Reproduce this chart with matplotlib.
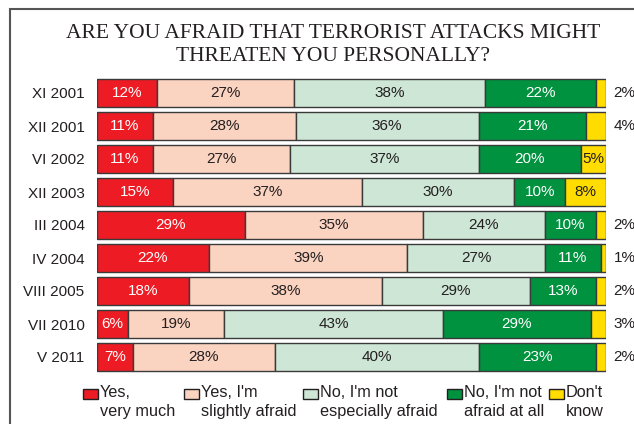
import numpy as np
import matplotlib.pyplot as plt
from matplotlib.patches import Rectangle

periods = ["XI 2001", "XII 2001", "VI 2002", "XII 2003", "III 2004",
           "IV 2004", "VIII 2005", "VII 2010", "V 2011"]
categories = ["Yes,\nvery much", "Yes, I'm\nslightly afraid",
              "No, I'm not\nespecially afraid", "No, I'm not\nafraid at all",
              "Don't\nknow"]
very_much = [12, 11, 11, 15, 29, 22, 18, 6, 7]
slightly = [27, 28, 27, 37, 35, 39, 38, 19, 28]
not_especially = [38, 36, 37, 30, 24, 27, 29, 43, 40]
not_at_all = [22, 21, 20, 10, 10, 11, 13, 29, 23]
dont_know = [2, 4, 5, 8, 2, 1, 2, 3, 2]

colors = ["#ED1C24", "#FBD3C1", "#CDE6D5", "#00923F", "#FFDD00"]
text_colors = ["white", "#231F20", "#231F20", "white", "#231F20"]

series = np.array([very_much, slightly, not_especially, not_at_all, dont_know], dtype=float)
shares = series / series.sum(axis=0) * 100

fig = plt.figure(figsize=(6.34, 4.24), dpi=100)
ax = fig.add_axes([97 / 634, 1 - 373.5 / 424, 509 / 634, 297 / 424])

y = np.arange(len(periods))
left = np.zeros(len(periods))
for k in range(len(categories)):
    ax.barh(y, shares[k], left=left, height=0.85, color=colors[k],
            edgecolor="#3a3a3a", linewidth=1.0)
    for i in range(len(periods)):
        val = series[k, i]
        if k == 4 and val < 5:
            # small "don't know" shares are labelled to the right of the bar
            ax.text(101.5, y[i], "%d%%" % val, ha="left", va="center",
                    fontsize=11, color="#231F20", family="Liberation Sans",
                    clip_on=False)
        else:
            ax.text(left[i] + shares[k, i] / 2, y[i], "%d%%" % val,
                    ha="center", va="center", fontsize=11,
                    color=text_colors[k], family="Liberation Sans")
    left = left + shares[k]

ax.set_xlim(0, 100)
ax.set_ylim(len(periods) - 0.5, -0.5)
ax.set_yticks(y)
ax.set_yticklabels(periods, fontsize=11, family="Liberation Sans", color="#231F20")
ax.tick_params(axis="y", length=0, pad=9)
ax.set_xticks([])
for s in ax.spines.values():
    s.set_visible(False)

fig.text(333 / 634, 1 - 45 / 424,
         "ARE YOU AFRAID THAT TERRORIST ATTACKS MIGHT\nTHREATEN YOU PERSONALLY?",
         ha="center", va="center", fontsize=15.5, family="Liberation Serif",
         color="#231F20", linespacing=1.25)

# frame around the whole chart
fig.patches.append(Rectangle((10 / 634, -0.1), 1.2, 1.1 - 9 / 424,
                             transform=fig.transFigure, fill=False,
                             edgecolor="#555555", linewidth=1.5))

# legend
sq_x = [83, 184, 303, 447, 549]
for k in range(len(categories)):
    fig.patches.append(Rectangle((sq_x[k] / 634, 1 - 399 / 424), 15 / 634, 10 / 424,
                                 transform=fig.transFigure, facecolor=colors[k],
                                 edgecolor="#231F20", linewidth=1.0))
    fig.text((sq_x[k] + 17) / 634, 1 - 385 / 424, categories[k], ha="left", va="top",
             fontsize=11.7, family="Liberation Sans", color="#231F20",
             linespacing=1.3)

fig.savefig("out.png", dpi=100)
